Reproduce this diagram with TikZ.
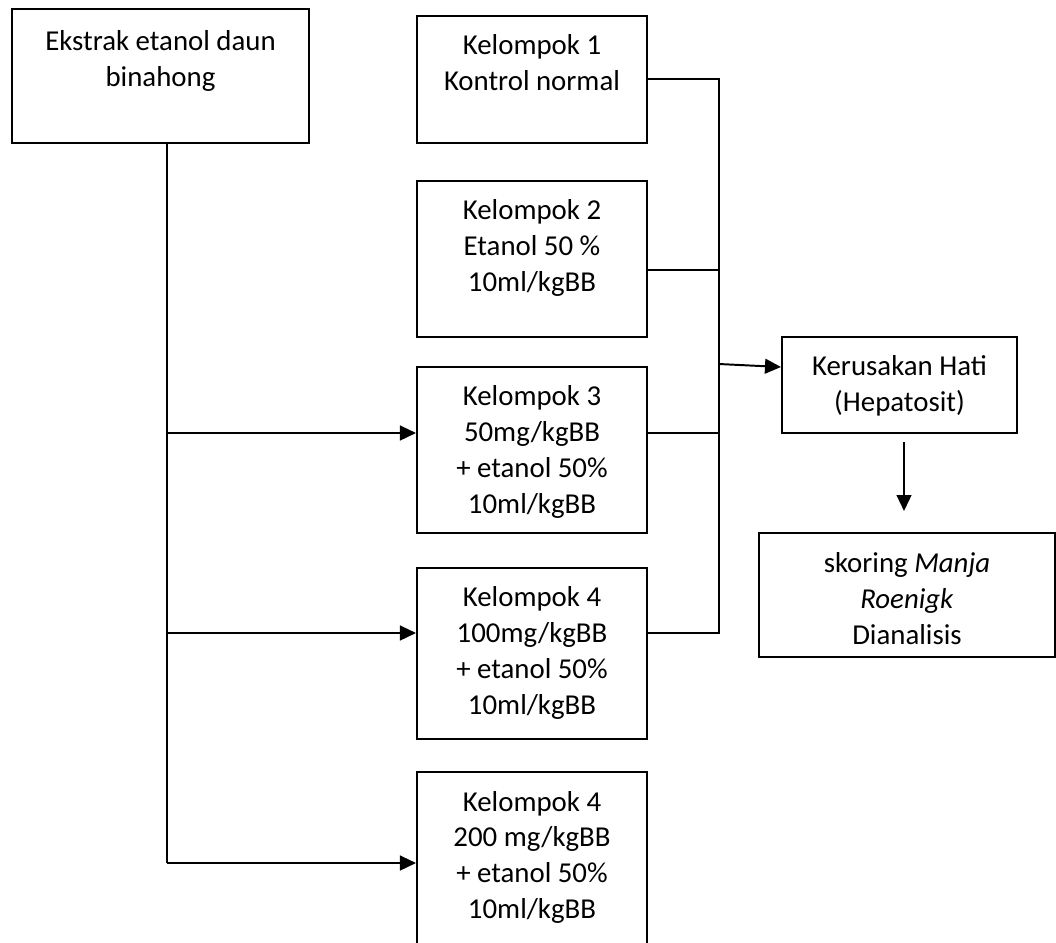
\documentclass[tikz,border=0pt]{standalone}
\usepackage{fontspec}
\setmainfont{Carlito}
\usetikzlibrary{arrows.meta,positioning}

\begin{document}
\begin{tikzpicture}[x=0.025cm,y=-0.025cm,
box/.style={draw=black,line width=1.4pt,inner sep=0pt},
kbox/.style={box,minimum width=5.75cm},
txt/.style={anchor=north,align=center,inner sep=0pt,font=\fontsize{20.5}{25.6}\selectfont},
link/.style={line width=1.4pt},
arr/.style={link,-{Triangle[length=4mm,width=3.7mm]}}]
\useasboundingbox (0,0) rectangle (1056,942);
% boxes
\node[box,minimum width=7.425cm,minimum height=3.35cm] (ekstrak) at (160.5,76) {};
\node[kbox,minimum height=3.175cm] (k1) at (532,79.5) {};
\node[kbox,minimum height=3.9cm] (k2) at (532,259) {};
\node[kbox,minimum height=4.15cm] (k3) at (532,450) {};
\node[kbox,minimum height=4.275cm] (k4) at (532,653.5) {};
\node[kbox,minimum height=4.45cm] (k5) at (532,861) {};
\node[box,minimum width=5.875cm,minimum height=2.4cm] (hati) at (899.5,385) {};
\node[box,minimum width=7.4cm,minimum height=3.1cm] (skor) at (907,595) {};
% texts
\node[txt] (ekstrakt) at (160.5,24.8) {\strut Ekstrak etanol daun\\binahong};
\node[txt] (k1t) at (532,29.5) {\strut Kelompok 1\\Kontrol normal};
\node[txt] (k2t) at (532,194.5) {\strut Kelompok 2\\Etanol 50 \%\\10ml/kgBB};
\node[txt] (k3t) at (532,380.5) {\strut Kelompok 3\\50mg/kgBB\\+ etanol 50\%\\10ml/kgBB};
\node[txt] (k4t) at (532,581.5) {\strut Kelompok 4\\100mg/kgBB\\+ etanol 50\%\\10ml/kgBB};
\node[txt] (k5t) at (532,785.5) {\strut Kelompok 4\\200 mg/kgBB\\+ etanol 50\%\\10ml/kgBB};
\node[txt] (hatit) at (899.5,349.8) {\strut Kerusakan Hati\\(Hepatosit)};
\node[txt] (skort) at (907,546.8) {\strut skoring \textit{Manja}\\\textit{Roenigk}\\Dianalisis};
% left trunk
\coordinate (trunk) at (167,863);
\coordinate (a3) at (167,433);
\coordinate (a4) at (167,633);
\draw[link] (ekstrak.south -| trunk) -- (trunk);
\draw[arr] (a3) -- (a3 -| k3.west);
\draw[arr] (a4) -- (a4 -| k4.west);
\draw[arr] (trunk) -- (trunk -| k5.west);
% right bus
\coordinate (b1) at (719,79);
\coordinate (b2) at (719,270);
\coordinate (b3) at (719,433);
\coordinate (b4) at (719,633);
\coordinate (bh) at (719,364);
\draw[link] (b1 -| k1.east) -- (b1) -- (b4) -- (b4 -| k4.east);
\draw[link] (b2 -| k2.east) -- (b2);
\draw[link] (b3 -| k3.east) -- (b3);
\draw[arr] (bh) -- ([yshift=-3*0.025cm]bh -| hati.west);
% down to scoring
\coordinate (dn) at (904,442);
\draw[arr,shorten >=5.25mm] (dn) -- (dn |- skor.north);
\end{tikzpicture}
\end{document}
